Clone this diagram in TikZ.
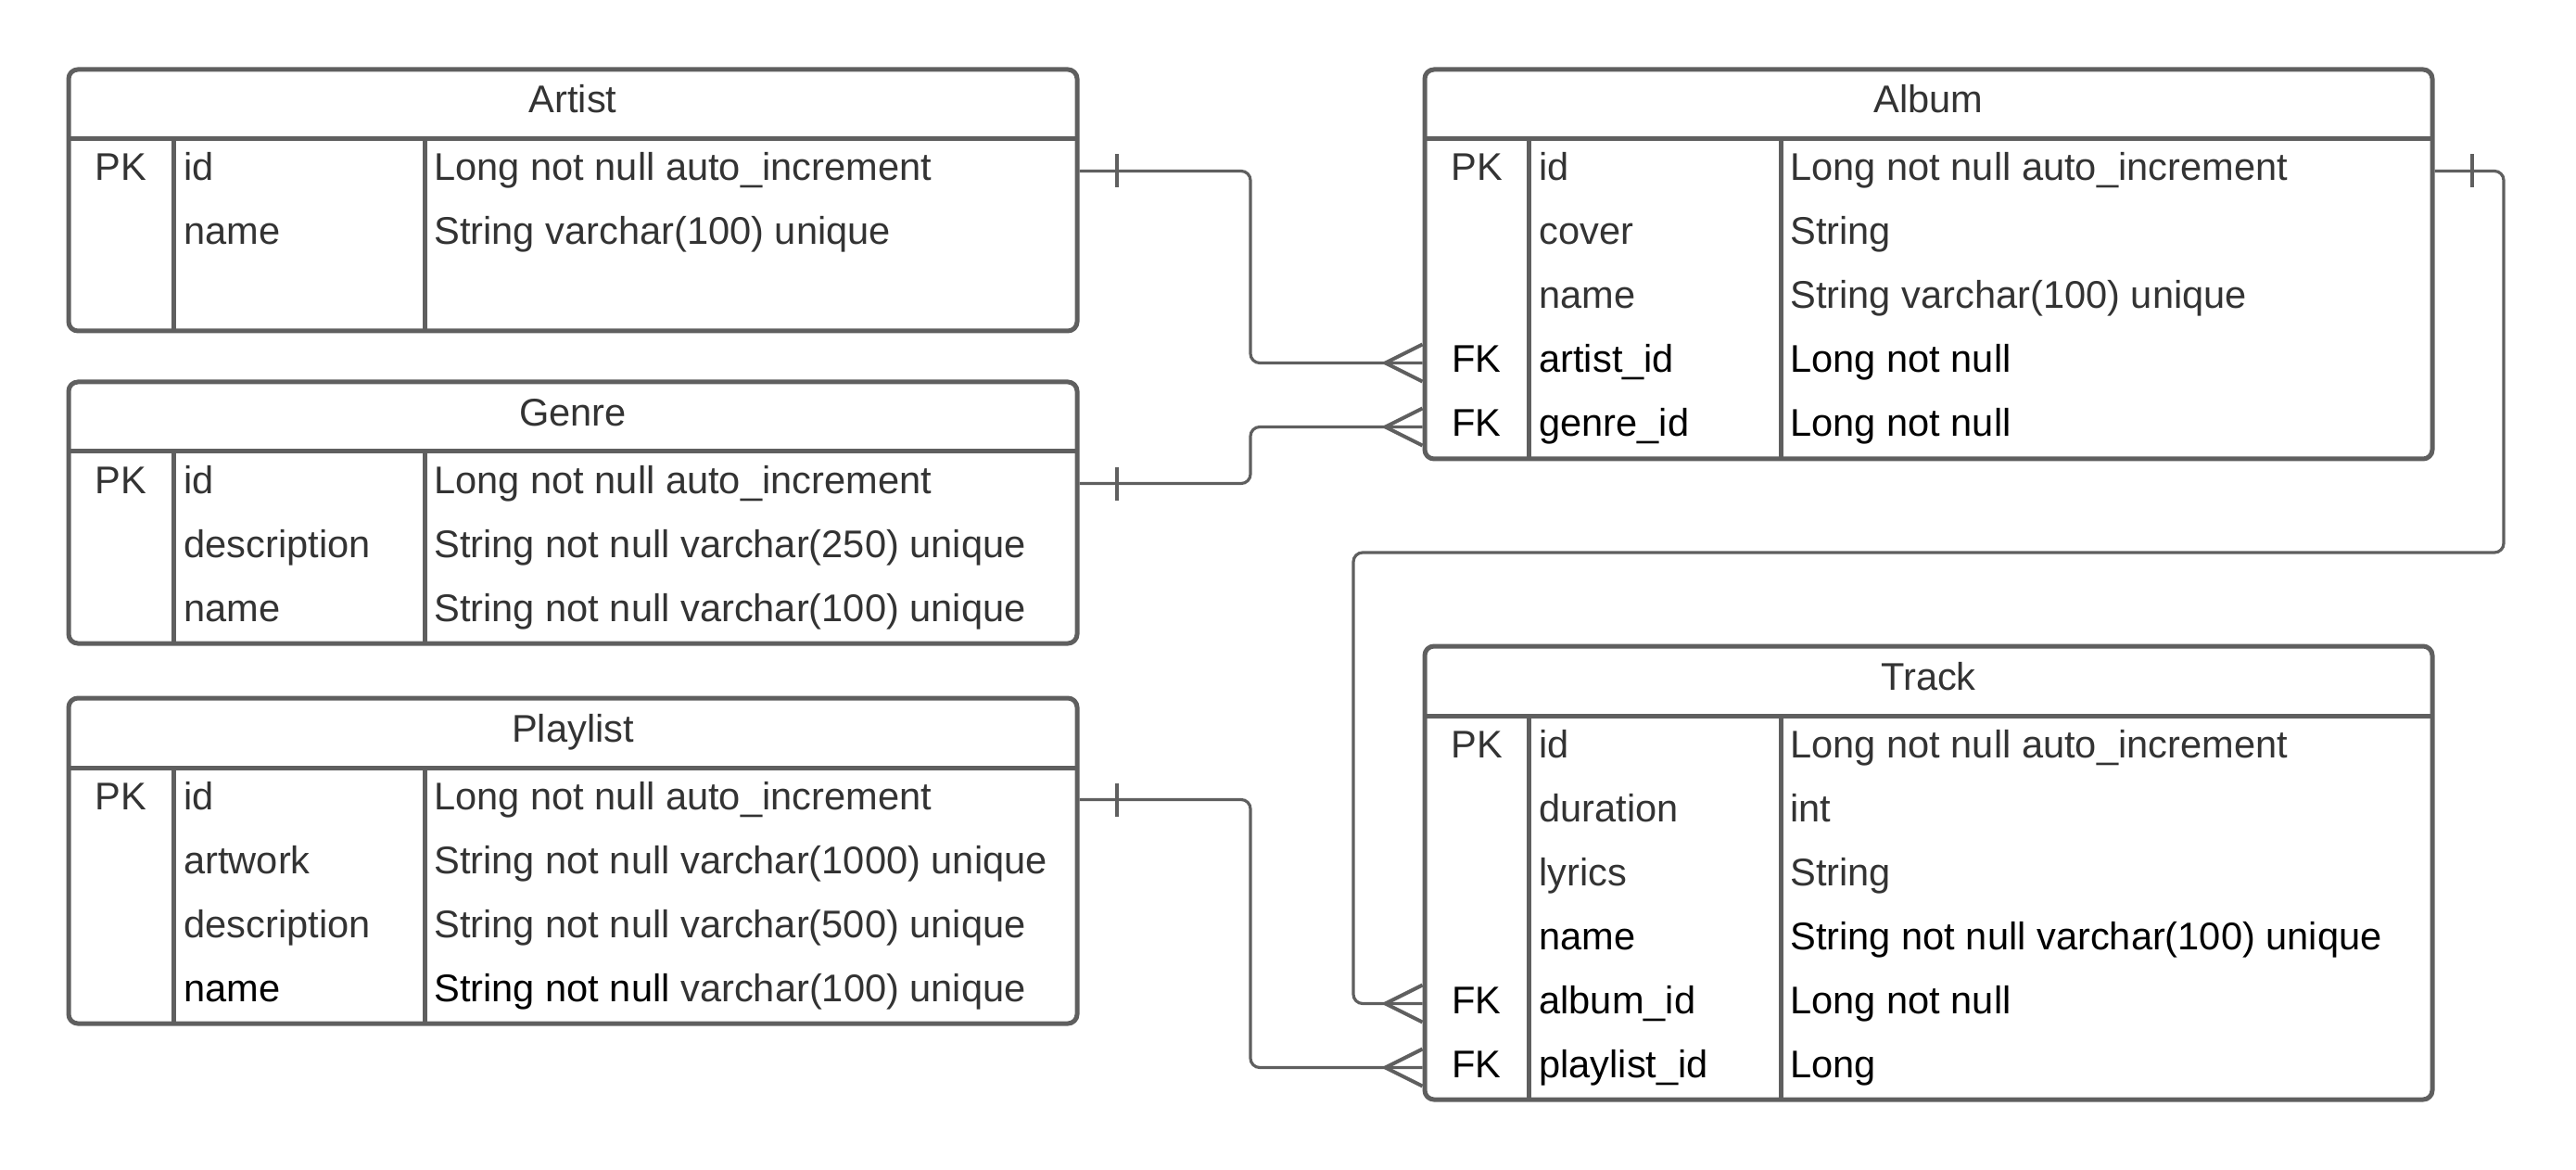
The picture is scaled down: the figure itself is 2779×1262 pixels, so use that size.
\documentclass[tikz,border=0pt]{standalone}
\usepackage{fontspec}
\setmainfont{Liberation Sans}
\usetikzlibrary{fit,calc}
\definecolor{bordergray}{RGB}{95,95,95}
\definecolor{txtgray}{RGB}{51,51,51}
\begin{document}
\begin{tikzpicture}[x=0.5pt,y=-0.5pt,
  tbl/.style={draw=bordergray, line width=2.5pt, rounded corners=5pt, inner sep=0pt},
  rule/.style={draw=bordergray, line width=2.5pt},
  txt/.style={inner sep=0pt, font=\fontsize{20.8}{25}\selectfont},
  hdr/.style={txt, anchor=base, text=txtgray},
  keyg/.style={txt, anchor=base, text=txtgray},
  keyk/.style={txt, anchor=base, text=black},
  fldg/.style={txt, anchor=base west, text=txtgray},
  fldk/.style={txt, anchor=base west, text=black},
  conn/.style={draw=bordergray, line width=1.6pt, rounded corners=5pt},
  endmark/.style={draw=bordergray, line width=2pt}]
\useasboundingbox (0,0) rectangle (2779,1262);

% ---------------- Artist ----------------
\node[tbl, fit={(74,75) (1162,357)}] (artist) {};
\draw[rule] (74,150) -- (1162,150);
\draw[rule] (187,150) -- (187,357);
\draw[rule] (458,150) -- (458,357);
\node[hdr] (artistT) at (618,122) {Artist};
\node[keyg] (artistK1) at (130.5,195) {PK};
\node[fldg] (artistN1) at (198,195) {id};
\node[fldg] (artistV1) at (468,195) {Long not null auto\_increment};
\node[fldg] (artistN2) at (198,264) {name};
\node[fldg] (artistV2) at (468,264) {String varchar(100) unique};
\coordinate (ar1) at (0,184.5);

% ---------------- Genre ----------------
\node[tbl, fit={(74,412) (1162,694)}] (genre) {};
\draw[rule] (74,487) -- (1162,487);
\draw[rule] (187,487) -- (187,694);
\draw[rule] (458,487) -- (458,694);
\node[hdr] (genreT) at (618,459) {Genre};
\node[keyg] (genreK1) at (130.5,532) {PK};
\node[fldg] (genreN1) at (198,532) {id};
\node[fldg] (genreV1) at (468,532) {Long not null auto\_increment};
\node[fldg] (genreN2) at (198,601) {description};
\node[fldg] (genreV2) at (468,601) {String not null varchar(250) unique};
\node[fldg] (genreN3) at (198,670) {name};
\node[fldg] (genreV3) at (468,670) {String not null varchar(100) unique};
\coordinate (gr1) at (0,521.5);

% ---------------- Playlist ----------------
\node[tbl, fit={(74,753) (1162,1104)}] (playlist) {};
\draw[rule] (74,828) -- (1162,828);
\draw[rule] (187,828) -- (187,1104);
\draw[rule] (458,828) -- (458,1104);
\node[hdr] (playlistT) at (618,800) {Playlist};
\node[keyg] (playlistK1) at (130.5,873) {PK};
\node[fldg] (playlistN1) at (198,873) {id};
\node[fldg] (playlistV1) at (468,873) {Long not null auto\_increment};
\node[fldg] (playlistN2) at (198,942) {artwork};
\node[fldg] (playlistV2) at (468,942) {String not null varchar(1000) unique};
\node[fldg] (playlistN3) at (198,1011) {description};
\node[fldg] (playlistV3) at (468,1011) {String not null varchar(500) unique};
\node[fldk] (playlistN4) at (198,1080) {name};
\node[fldg] (playlistV4) at (468,1080) {\textcolor{black}{String not null} varchar(100) unique};
\coordinate (pr1) at (0,862.5);

% ---------------- Album ----------------
\node[tbl, fit={(1537,75) (2624,495)}] (album) {};
\draw[rule] (1537,150) -- (2624,150);
\draw[rule] (1649,150) -- (1649,495);
\draw[rule] (1921,150) -- (1921,495);
\node[hdr] (albumT) at (2080.5,122) {Album};
\node[keyg] (albumK1) at (1593,195) {PK};
\node[fldg] (albumN1) at (1660,195) {id};
\node[fldg] (albumV1) at (1931,195) {Long not null auto\_increment};
\node[fldg] (albumN2) at (1660,264) {cover};
\node[fldg] (albumV2) at (1931,264) {String};
\node[fldg] (albumN3) at (1660,333) {name};
\node[fldg] (albumV3) at (1931,333) {String varchar(100) unique};
\node[keyk] (albumK4) at (1593,402) {FK};
\node[fldk] (albumN4) at (1660,402) {artist\_id};
\node[fldk] (albumV4) at (1931,402) {Long not null};
\node[keyk] (albumK5) at (1593,471) {FK};
\node[fldk] (albumN5) at (1660,471) {genre\_id};
\node[fldk] (albumV5) at (1931,471) {Long not null};
\coordinate (alr1) at (0,184.5);
\coordinate (alr4) at (0,391.5);
\coordinate (alr5) at (0,460.5);

% ---------------- Track ----------------
\node[tbl, fit={(1537,697) (2624,1186)}] (track) {};
\draw[rule] (1537,772) -- (2624,772);
\draw[rule] (1649,772) -- (1649,1186);
\draw[rule] (1921,772) -- (1921,1186);
\node[hdr] (trackT) at (2080.5,744) {Track};
\node[keyg] (trackK1) at (1593,817) {PK};
\node[fldg] (trackN1) at (1660,817) {id};
\node[fldg] (trackV1) at (1931,817) {Long not null auto\_increment};
\node[fldg] (trackN2) at (1660,886) {duration};
\node[fldg] (trackV2) at (1931,886) {int};
\node[fldg] (trackN3) at (1660,955) {lyrics};
\node[fldg] (trackV3) at (1931,955) {String};
\node[fldk] (trackN4) at (1660,1024) {name};
\node[fldk] (trackV4) at (1931,1024) {String not null varchar(100) unique};
\node[keyk] (trackK5) at (1593,1093) {FK};
\node[fldk] (trackN5) at (1660,1093) {album\_id};
\node[fldk] (trackV5) at (1931,1093) {Long not null};
\node[keyk] (trackK6) at (1593,1162) {FK};
\node[fldk] (trackN6) at (1660,1162) {playlist\_id};
\node[fldk] (trackV6) at (1931,1162) {Long};
\coordinate (tr5) at (0,1082.5);
\coordinate (tr6) at (0,1151.5);

% ---------------- Connectors ----------------
% Artist -> Album.artist_id
\draw[conn] (artist.east |- ar1) -| (1349,391.5) -- (album.west |- alr4);
% Genre -> Album.genre_id
\draw[conn] (genre.east |- gr1) -| (1349,460.5) -- (album.west |- alr5);
% Playlist -> Track.playlist_id
\draw[conn] (playlist.east |- pr1) -| (1349,1151.5) -- (track.west |- tr6);
% Album -> Track.album_id
\draw[conn] (album.east |- alr1) -| (2701,596) -| (1460,1082.5) -- (track.west |- tr5);

% one-bars
\foreach \p in {artist.east |- ar1, genre.east |- gr1, playlist.east |- pr1, album.east |- alr1}{
  \draw[endmark] ($(\p)+(40,-18)$) -- ($(\p)+(40,18)$);
}
% crow's feet
\foreach \p in {album.west |- alr4, album.west |- alr5, track.west |- tr5, track.west |- tr6}{
  \draw[endmark] ($(\p)+(0,-20)$) -- ($(\p)+(-40,0)$) -- ($(\p)+(0,20)$);
}
\end{tikzpicture}
\end{document}
